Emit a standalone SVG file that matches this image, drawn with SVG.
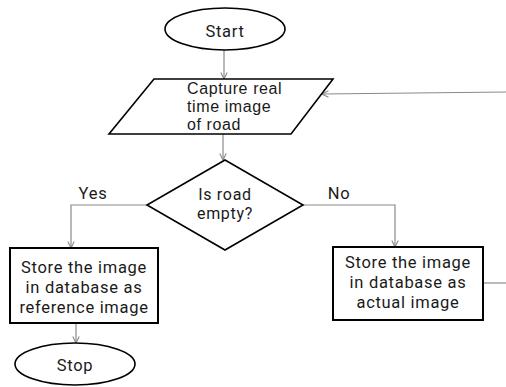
<svg xmlns="http://www.w3.org/2000/svg" width="506" height="387" viewBox="0 0 506 387">
  <defs>
    <marker id="arrow" viewBox="0 0 8 8" refX="7.5" refY="4" markerWidth="8" markerHeight="8" markerUnits="userSpaceOnUse" orient="auto">
      <path d="M1,0.8 L7.5,4 L1,7.2" fill="none" stroke="#8a8a8a" stroke-width="1.1"/>
    </marker>
    <style>
      .shape { fill: #ffffff; stroke: #000000; stroke-width: 1.6; }
      .box { fill: #ffffff; stroke: #000000; stroke-width: 2; }
      .conn { fill: none; stroke: #8a8a8a; stroke-width: 1.2; }
      .lbl { font-family: Roboto, "Open Sans", sans-serif; font-size: 16.5px; letter-spacing: 0.7px; fill: #1a1a1a; text-anchor: middle; }
      .dec { font-size: 16px; }
      .io { font-family: "Liberation Sans", Arial, sans-serif; font-size: 16px; letter-spacing: 0.6px; fill: #1a1a1a; }
    </style>
  </defs>
  <rect width="506" height="387" fill="#ffffff"/>

  <!-- connectors -->
  <g id="connectors">
    <line class="conn" x1="224" y1="50" x2="224" y2="79" marker-end="url(#arrow)"/>
    <line class="conn" x1="506" y1="92" x2="322" y2="94" marker-end="url(#arrow)"/>
    <line class="conn" x1="223" y1="134" x2="223" y2="160" marker-end="url(#arrow)"/>
    <polyline class="conn" points="147,205 71,205 71,248" marker-end="url(#arrow)"/>
    <polyline class="conn" points="303,205 395,205 395,247" marker-end="url(#arrow)"/>
    <line class="conn" x1="76" y1="323" x2="76" y2="343" marker-end="url(#arrow)"/>
    <line class="conn" x1="483" y1="283" x2="506" y2="283"/>
    <text class="lbl" x="93" y="199">Yes</text>
    <text class="lbl" x="339" y="199">No</text>
  </g>

  <g id="start">
    <ellipse class="shape" cx="225" cy="29" rx="60" ry="21"/>
    <text class="lbl" x="225" y="37">Start</text>
  </g>

  <g id="capture">
    <polygon class="shape" points="154,79 333,79 291,134 109,134"/>
    <text class="io" x="187" y="94">Capture real</text>
    <text class="io" x="187" y="112">time image</text>
    <text class="io" x="187" y="130">of road</text>
  </g>

  <g id="decision">
    <polygon class="shape" points="225,160 303,205 225,250 147,205"/>
    <text class="lbl dec" x="225" y="200">Is road</text>
    <text class="lbl dec" x="225" y="219">empty?</text>
  </g>

  <g id="store-reference">
    <rect class="box" x="10" y="248" width="148" height="75"/>
    <text class="lbl" x="84" y="273">Store the image</text>
    <text class="lbl" x="84" y="293">in database as</text>
    <text class="lbl" x="84" y="313">reference image</text>
  </g>

  <g id="store-actual">
    <rect class="box" x="333" y="247" width="150" height="73"/>
    <text class="lbl" x="408" y="268">Store the image</text>
    <text class="lbl" x="408" y="288">in database as</text>
    <text class="lbl" x="408" y="308">actual image</text>
  </g>

  <g id="stop">
    <ellipse class="shape" cx="75" cy="364" rx="60" ry="21"/>
    <text class="lbl" x="75" y="371">Stop</text>
  </g>
</svg>
